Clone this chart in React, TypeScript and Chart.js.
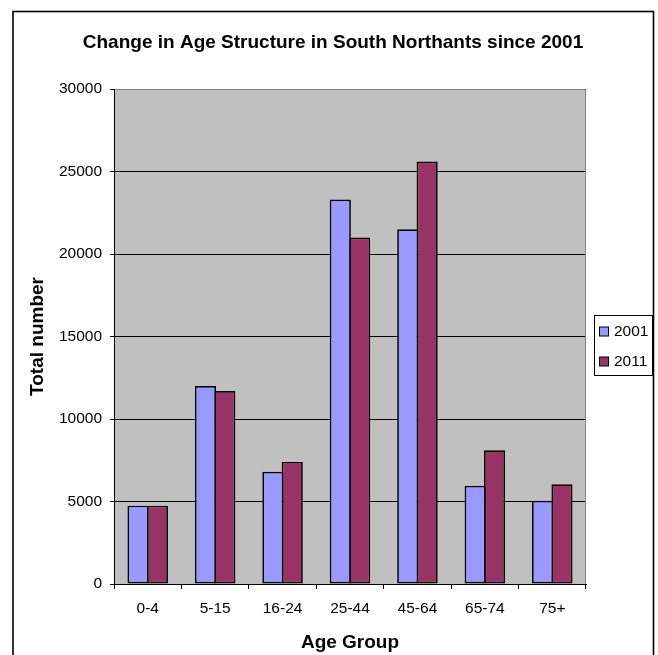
import React, { useEffect, useRef } from "react";
import { Chart, registerables } from "chart.js";

Chart.register(...registerables);

const categories = ["0-4", "5-15", "16-24", "25-44", "45-64", "65-74", "75+"];
const values2001 = [4750, 12000, 6800, 23300, 21500, 5950, 5050];
const values2011 = [4750, 11700, 7400, 21000, 25600, 8100, 6050];
const seriesLabels = ["2001", "2011"];
const seriesColors = ["#9999FF", "#993366"];
const yMin = 0;
const yMax = 30000;
const yStep = 5000;
const titleText = "Change in Age Structure in South Northants since 2001";
const xTitle = "Age Group";
const yTitle = "Total number";

const FONT = "'Liberation Sans', Arial, sans-serif";

const framePlugin = {
  id: "frame",
  beforeDraw(chart: any) {
    const { ctx, chartArea } = chart;
    ctx.save();
    ctx.fillStyle = "#FFFFFF";
    ctx.fillRect(0, 0, chart.width, chart.height);
    ctx.fillStyle = "#C0C0C0";
    ctx.fillRect(chartArea.left, chartArea.top, chartArea.right - chartArea.left, chartArea.bottom - chartArea.top);
    ctx.restore();
  },
  afterDraw(chart: any) {
    const { ctx, chartArea } = chart;
    ctx.save();
    // plot border top/right (gray)
    ctx.strokeStyle = "#808080";
    ctx.lineWidth = 1;
    ctx.beginPath();
    ctx.moveTo(chartArea.left + 1, chartArea.top + 0.5);
    ctx.lineTo(chartArea.right - 0.5, chartArea.top + 0.5);
    ctx.lineTo(chartArea.right - 0.5, chartArea.bottom);
    ctx.stroke();
    // outer border
    ctx.strokeStyle = "#000000";
    ctx.lineWidth = 1.6;
    ctx.strokeRect(13, 11.5, 640.5, 660);
    // title
    ctx.fillStyle = "#000000";
    ctx.font = `bold 19px ${FONT}`;
    ctx.textAlign = "center";
    ctx.textBaseline = "middle";
    ctx.fillText(titleText, 333, 43);
    // legend
    const bx = 594.5, by = 315.5, bw = 58, bh = 60;
    ctx.fillStyle = "#FFFFFF";
    ctx.fillRect(bx, by, bw, bh);
    ctx.strokeStyle = "#000000";
    ctx.lineWidth = 1;
    ctx.strokeRect(bx, by, bw, bh);
    chart.data.datasets.forEach((ds: any, i: number) => {
      const cy = 331.5 + i * 30;
      ctx.fillStyle = ds.backgroundColor;
      ctx.fillRect(599.5, cy - 4.5, 9, 9);
      ctx.strokeStyle = "#000000";
      ctx.strokeRect(599.5, cy - 4.5, 9, 9);
      ctx.fillStyle = "#000000";
      ctx.font = `15.5px ${FONT}`;
      ctx.textAlign = "left";
      ctx.textBaseline = "middle";
      ctx.fillText(ds.label, 614, cy);
    });
    ctx.restore();
  },
};

export default function App() {
  const ref = useRef<HTMLCanvasElement | null>(null);
  useEffect(() => {
    if (!ref.current) return;
    const makeDs = (i: number, data: number[]) => ({
      label: seriesLabels[i],
      data,
      backgroundColor: seriesColors[i],
      borderColor: "#000000",
      borderWidth: 1.7,
      borderSkipped: false,
      categoryPercentage: 0.575,
      barPercentage: 1.09,
    });
    const chart = new Chart(ref.current, {
      type: "bar",
      data: {
        labels: categories,
        datasets: [makeDs(0, values2001), makeDs(1, values2011)],
      },
      options: {
        responsive: false,
        animation: false,
        devicePixelRatio: 1,
        layout: { padding: { left: 14, top: 89, right: 72, bottom: 0 } },
        plugins: {
          legend: { display: false },
          title: { display: false },
          tooltip: { enabled: false },
        },
        scales: {
          x: {
            type: "category",
            offset: true,
            afterFit(scale: any) {
              scale.height = 71;
            },
            grid: {
              offset: true,
              drawOnChartArea: false,
              drawTicks: true,
              tickLength: 5,
              color: "#000000",
              lineWidth: 1,
            },
            border: { display: true, color: "#000000", width: 1 },
            ticks: {
              color: "#000000",
              font: { family: FONT, size: 15.5 },
              padding: 10,
              maxRotation: 0,
              autoSkip: false,
            },
            title: {
              display: true,
              text: xTitle,
              color: "#000000",
              font: { family: FONT, size: 19, weight: "bold" },
              padding: { top: 0, bottom: 0.6 },
            },
          },
          y: {
            min: yMin,
            max: yMax,
            afterFit(scale: any) {
              scale.width = 100;
            },
            grid: {
              drawOnChartArea: true,
              drawTicks: true,
              tickLength: 4,
              color: "#000000",
              lineWidth: 1,
            },
            border: { display: true, color: "#000000", width: 1 },
            ticks: {
              stepSize: yStep,
              color: "#000000",
              font: { family: FONT, size: 15.5 },
              padding: 8,
              callback: (v: any) => String(v),
            },
            title: {
              display: true,
              text: yTitle,
              color: "#000000",
              font: { family: FONT, size: 19, weight: "bold" },
              padding: { top: 12.6, bottom: 0 },
            },
          },
        },
      },
      plugins: [framePlugin],
    } as any);
    return () => chart.destroy();
  }, []);
  return (
    <div style={{ position: "fixed", left: 0, top: 0, width: 658, height: 655, overflow: "hidden", background: "#fff" }}>
      <canvas ref={ref} width={658} height={655} style={{ width: 658, height: 655, display: "block" }} />
    </div>
  );
}
